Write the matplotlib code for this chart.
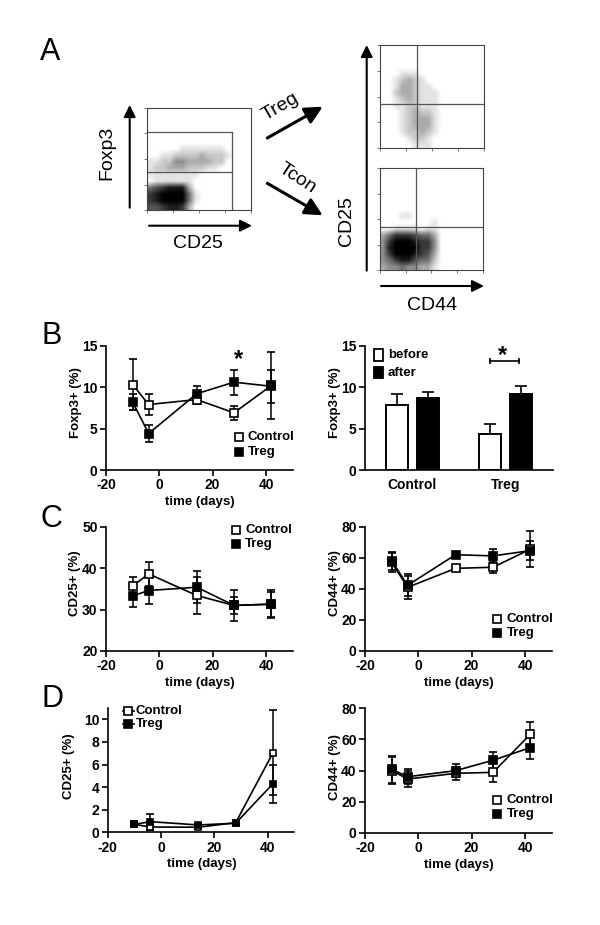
import numpy as np
import matplotlib
matplotlib.use('Agg')
import matplotlib.pyplot as plt
from matplotlib.patches import Rectangle

plt.rcParams['font.family'] = ['Liberation Sans', 'DejaVu Sans']
plt.rcParams['axes.unicode_minus'] = False

# time points shared by all line panels
days = [-10, -4, 14, 28, 42]

# panel B left
b_ctrl = [10.3, 7.9, 8.5, 6.9, 10.2]
b_ctrl_err = [3.1, 1.25, 0.5, 0.85, 4.0]
b_treg = [8.2, 4.4, 9.2, 10.6, 10.1]
b_treg_err = [1.0, 1.05, 0.9, 1.5, 2.0]

# panel B right
bar_groups = ['Control', 'Treg']
bar_before = [7.9, 4.4]
bar_before_err = [1.25, 1.1]
bar_after = [8.7, 9.2]
bar_after_err = [0.7, 0.9]

# panel C left
c1_ctrl = [35.7, 38.6, 33.4, 31.0, 31.3]
c1_ctrl_err = [2.1, 3.0, 4.4, 3.7, 3.4]
c1_treg = [33.3, 34.6, 35.4, 31.0, 31.3]
c1_treg_err = [2.6, 3.3, 3.8, 2.0, 3.0]

# panel C right
c2_ctrl = [57.0, 41.0, 53.2, 53.9, 65.5]
c2_ctrl_err = [6.0, 7.5, 1.5, 3.9, 11.5]
c2_treg = [58.0, 42.3, 62.0, 61.2, 64.6]
c2_treg_err = [6.0, 7.0, 1.0, 4.4, 6.0]

# panel D left
d1_ctrl = [0.7, 0.47, 0.45, 0.85, 7.03]
d1_ctrl_err = [0.15, 0.3, 0.1, 0.1, 3.75]
d1_treg = [0.7, 0.94, 0.65, 0.8, 4.3]
d1_treg_err = [0.1, 0.7, 0.1, 0.1, 1.7]

# panel D right
d2_ctrl = [40.0, 34.5, 38.2, 38.8, 63.3]
d2_ctrl_err = [8.7, 5.0, 4.0, 6.5, 8.0]
d2_treg = [40.8, 36.0, 39.9, 46.6, 54.7]
d2_treg_err = [8.6, 5.0, 4.0, 5.5, 7.3]

# flow plots: darkness on a coarse grid (0 white, 9 black)
flow_foxp3 = [
    [0, 0, 0, 0, 0, 0, 0, 0, 0, 0, 0, 0, 0, 0, 0, 0],
    [0, 0, 0, 0, 0, 0, 0, 0, 0, 0, 0, 0, 0, 0, 0, 0],
    [0, 0, 0, 0, 0, 0, 0, 0, 0, 0, 0, 0, 0, 0, 0, 0],
    [0, 0, 0, 0, 0, 0, 0, 0, 0, 0, 0, 0, 0, 0, 0, 0],
    [0, 0, 0, 0, 0, 0, 0, 0, 0, 0, 0, 0, 0, 0, 0, 0],
    [0, 0, 0, 0, 0, 0, 0, 0, 0, 0, 0, 0, 0, 0, 0, 0],
    [0, 0, 0, 0, 0, 1, 1, 1, 1, 1, 1, 1, 0, 0, 0, 0],
    [0, 0, 1, 1, 2, 2, 2, 2, 3, 2, 2, 2, 1, 0, 0, 0],
    [1, 1, 2, 2, 4, 4, 3, 3, 3, 3, 2, 2, 0, 0, 0, 0],
    [1, 2, 2, 3, 3, 3, 2, 2, 2, 1, 1, 0, 0, 0, 0, 0],
    [1, 1, 1, 1, 1, 1, 1, 1, 0, 0, 0, 0, 0, 0, 0, 0],
    [0, 1, 1, 1, 1, 1, 1, 0, 0, 0, 0, 0, 0, 0, 0, 0],
    [5, 6, 7, 8, 8, 8, 3, 0, 0, 0, 0, 0, 0, 0, 0, 0],
    [7, 8, 9, 9, 9, 9, 5, 1, 0, 0, 0, 0, 0, 0, 0, 0],
    [7, 8, 9, 9, 9, 9, 5, 1, 0, 0, 0, 0, 0, 0, 0, 0],
    [6, 6, 7, 8, 8, 7, 3, 0, 0, 0, 0, 0, 0, 0, 0, 0],
]
flow_treg = [
    [0, 0, 0, 0, 0, 0, 0, 0, 0, 0, 0, 0, 0, 0, 0, 0],
    [0, 0, 0, 0, 0, 0, 0, 0, 0, 0, 0, 0, 0, 0, 0, 0],
    [0, 0, 0, 0, 0, 0, 0, 0, 0, 0, 0, 0, 0, 0, 0, 0],
    [0, 0, 0, 0, 0, 0, 0, 0, 0, 0, 0, 0, 0, 0, 0, 0],
    [0, 0, 0, 1, 1, 1, 0, 0, 0, 0, 0, 0, 0, 0, 0, 0],
    [0, 0, 1, 2, 3, 2, 1, 0, 0, 0, 0, 0, 0, 0, 0, 0],
    [0, 0, 1, 3, 3, 2, 1, 1, 0, 0, 0, 0, 0, 0, 0, 0],
    [0, 0, 2, 3, 3, 2, 1, 1, 1, 0, 0, 0, 0, 0, 0, 0],
    [0, 0, 1, 2, 3, 2, 1, 1, 1, 0, 0, 0, 0, 0, 0, 0],
    [0, 0, 1, 1, 2, 2, 1, 1, 1, 0, 0, 0, 0, 0, 0, 0],
    [0, 0, 0, 1, 2, 3, 2, 2, 1, 0, 0, 0, 0, 0, 0, 0],
    [0, 0, 0, 1, 2, 3, 3, 3, 1, 0, 0, 0, 0, 0, 0, 0],
    [0, 0, 0, 1, 2, 3, 3, 3, 1, 0, 0, 0, 0, 0, 0, 0],
    [0, 0, 0, 1, 2, 2, 3, 2, 1, 0, 0, 0, 0, 0, 0, 0],
    [0, 0, 0, 0, 1, 2, 2, 1, 0, 0, 0, 0, 0, 0, 0, 0],
    [0, 0, 0, 0, 0, 1, 1, 1, 0, 0, 0, 0, 0, 0, 0, 0],
]
flow_tcon = [
    [0, 0, 0, 0, 0, 0, 0, 0, 0, 0, 0, 0, 0, 0, 0, 0],
    [0, 0, 0, 0, 0, 0, 0, 0, 0, 0, 0, 0, 0, 0, 0, 0],
    [0, 0, 0, 0, 0, 0, 0, 0, 0, 0, 0, 0, 0, 0, 0, 0],
    [0, 0, 0, 0, 0, 0, 0, 0, 0, 0, 0, 0, 0, 0, 0, 0],
    [0, 0, 0, 0, 0, 0, 0, 0, 0, 0, 0, 0, 0, 0, 0, 0],
    [0, 0, 0, 0, 0, 0, 0, 0, 0, 0, 0, 0, 0, 0, 0, 0],
    [0, 0, 0, 0, 0, 0, 0, 0, 0, 0, 0, 0, 0, 0, 0, 0],
    [0, 0, 0, 1, 1, 0, 0, 0, 0, 0, 0, 0, 0, 0, 0, 0],
    [0, 0, 0, 0, 0, 0, 0, 0, 1, 0, 0, 0, 0, 0, 0, 0],
    [0, 0, 1, 1, 1, 1, 0, 1, 1, 0, 0, 0, 0, 0, 0, 0],
    [3, 5, 7, 7, 7, 6, 5, 5, 3, 0, 0, 0, 0, 0, 0, 0],
    [4, 7, 9, 9, 9, 8, 7, 7, 4, 0, 0, 0, 0, 0, 0, 0],
    [4, 8, 9, 9, 9, 9, 7, 7, 4, 0, 0, 0, 0, 0, 0, 0],
    [4, 7, 9, 9, 9, 8, 7, 6, 3, 0, 0, 0, 0, 0, 0, 0],
    [4, 5, 7, 8, 8, 6, 5, 5, 2, 0, 0, 0, 0, 0, 0, 0],
    [3, 4, 4, 5, 4, 4, 3, 3, 1, 0, 0, 0, 0, 0, 0, 0],
]

W, H = 600, 925
fig = plt.figure(figsize=(W / 100, H / 100), dpi=100)

# overlay in pixel coordinates for the labels and arrows of the figure
ov = fig.add_axes([0, 0, 1, 1], zorder=5)
ov.set_xlim(0, W)
ov.set_ylim(H, 0)
ov.axis('off')
ov.patch.set_alpha(0)


def px_axes(x0, x1, y_top, y_bottom):
    return fig.add_axes([x0 / W, 1 - y_bottom / H, (x1 - x0) / W, (y_bottom - y_top) / H])


def flow_plot(grid, x0, x1, y_top, y_bottom, lines):
    ax = px_axes(x0, x1, y_top, y_bottom)
    ax.imshow(np.array(grid) / 9, cmap='gray_r', vmin=0, vmax=1, aspect='auto',
              interpolation='bilinear', extent=[0, 1, 0, 1])
    for s in ax.spines.values():
        s.set_color('#444444')
        s.set_linewidth(0.8)
    ax.set_xlim(0, 1)
    ax.set_ylim(0, 1)
    ax.set_xticks(np.arange(0, 1.01, 0.25))
    ax.set_yticks(np.arange(0, 1.01, 0.25))
    ax.set_xticklabels([])
    ax.set_yticklabels([])
    ax.tick_params(length=2, width=0.5, color='#444444')
    for (xa, ya, xb, yb) in lines:
        ax.plot([xa, xb], [ya, yb], color='#555555', lw=0.9)
    return ax


flow_plot(flow_foxp3, 147.3, 250.7, 107.7, 210.3,
          [(0, 0.76, 0.82, 0.76), (0.82, 0, 0.82, 0.76), (0, 0.37, 0.82, 0.37)])
flow_plot(flow_treg, 380, 484, 45, 148.3,
          [(0.355, 0, 0.355, 1), (0, 0.425, 1, 0.425)])
flow_plot(flow_tcon, 380, 482.7, 168.3, 270.3,
          [(0.35, 0, 0.35, 1), (0, 0.425, 1, 0.425)])


def arrow(xa, ya, xb, yb, lw=1.5, head=10):
    ov.annotate('', xy=(xb, yb), xytext=(xa, ya),
                arrowprops=dict(arrowstyle=f'-|>,head_width={head * 0.035},head_length={head * 0.07}',
                                color='black', lw=lw, shrinkA=0, shrinkB=0))


arrow(129.7, 207.7, 129.7, 105)
arrow(149, 225.7, 252, 225.7)
arrow(366.7, 270.7, 366.7, 45)
arrow(381, 286, 484, 286)
arrow(267.3, 138, 322.7, 106.7, lw=2.2, head=15)
arrow(267.3, 183.3, 322.7, 215.3, lw=2.2, head=15)

ov.text(107, 153, 'Foxp3', fontsize=14, rotation=90, ha='center', va='center')
ov.text(198, 244, 'CD25', fontsize=14, ha='center', va='center')
ov.text(346.7, 221, 'CD25', fontsize=14, rotation=90, ha='center', va='center')
ov.text(431.7, 305.7, 'CD44', fontsize=14, ha='center', va='center')
ov.text(281, 107, 'Treg', fontsize=14, rotation=30, ha='center', va='center')
ov.text(297, 178, 'Tcon', fontsize=14, rotation=-33, ha='center', va='center')

for letter, x, y in [('A', 40, 52), ('B', 41, 336), ('C', 41, 519), ('D', 41, 699)]:
    ov.text(x, y, letter, fontsize=22, ha='left', va='center')


def style(ax):
    ax.spines['top'].set_visible(False)
    ax.spines['right'].set_visible(False)
    ax.spines['left'].set_linewidth(1.2)
    ax.spines['bottom'].set_linewidth(1.2)
    ax.tick_params(width=1.2, length=4, pad=2, labelsize=10)
    for t in ax.get_xticklabels() + ax.get_yticklabels():
        t.set_fontweight('bold')


def line_panel(box, ylim, yticks, ctrl, ctrl_err, treg, treg_err, ylabel, ylab_x, ylab_y, leg, ms=6):
    ax = px_axes(*box, *ylim[2:])
    ax.errorbar(days, ctrl, yerr=ctrl_err, color='black', mfc='white', mec='black', marker='s',
                ms=ms, mew=1.2, lw=1.2, capsize=3.2, capthick=1.1, elinewidth=1.1, clip_on=False)
    ax.errorbar(days, treg, yerr=treg_err, color='black', mfc='black', mec='black', marker='s',
                ms=ms, mew=1.2, lw=1.2, capsize=3.2, capthick=1.1, elinewidth=1.1, clip_on=False)
    ax.set_xlim(-20, 50)
    ax.set_ylim(ylim[0], ylim[1])
    ax.set_xticks([-20, 0, 20, 40])
    ax.set_yticks(yticks)
    style(ax)
    ov.text(ylab_x, ylab_y, ylabel, fontsize=9.5, fontweight='bold', rotation=90, ha='center', va='center')
    ov.text((box[0] + box[1]) / 2 + 0.5, ylim[3] + 32, 'time (days)', fontsize=9.5, fontweight='bold',
            ha='center', va='center')
    mx, tx, y1, y2, with_line = leg
    for y, fc, name in [(y1, 'white', 'Control'), (y2, 'black', 'Treg')]:
        if with_line:
            ov.plot([mx - 5.5, mx + 5.5], [y, y], color='black', lw=1.2)
        ov.plot([mx], [y], marker='s', ms=5.8, mfc=fc, mec='black', mew=1.2, ls='none')
        ov.text(tx, y, name, fontsize=9.5, fontweight='bold', ha='left', va='center')
    return ax


line_panel((106, 292.7), (0, 15, 345.7, 470), [0, 5, 10, 15], b_ctrl, b_ctrl_err, b_treg, b_treg_err,
           'Foxp3+ (%)', 75.7, 403, (239, 248, 437.3, 451.7, False))
line_panel((106, 292.7), (20, 50, 526.7, 651), [20, 30, 40, 50], c1_ctrl, c1_ctrl_err, c1_treg, c1_treg_err,
           'CD25+ (%)', 75, 583, (235.7, 245, 530, 544, False))
line_panel((365, 551.7), (0, 80, 526.7, 651), [0, 20, 40, 60, 80], c2_ctrl, c2_ctrl_err, c2_treg, c2_treg_err,
           'CD44+ (%)', 335, 583, (497.3, 506.7, 619, 633.3, False))
line_panel((107.7, 294.3), (0, 11, 708, 832.3), [0, 2, 4, 6, 8, 10], d1_ctrl, d1_ctrl_err, d1_treg, d1_treg_err,
           'CD25+ (%)', 69, 766, (128, 136, 711, 724.3, True), ms=5)
line_panel((365, 551.7), (0, 80, 708.3, 832.7), [0, 20, 40, 60, 80], d2_ctrl, d2_ctrl_err, d2_treg, d2_treg_err,
           'CD44+ (%)', 335, 767, (497.3, 506.7, 800, 814.3, False))

ov.text(239, 360, '*', fontsize=17, fontweight='bold', ha='center', va='center')

# bar panel
ax = px_axes(365, 553, 345.7, 470)
before_x = [1, 4]
after_x = [2, 5]
ax.bar(before_x, bar_before, width=0.68, color='white', edgecolor='black', linewidth=1.4)
ax.bar(after_x, bar_after, width=0.68, color='black', edgecolor='black', linewidth=1.4)
ax.errorbar(before_x, bar_before, yerr=[[0, 0], bar_before_err], color='black', ls='none',
            capsize=4, capthick=1.2, elinewidth=1.2)
ax.errorbar(after_x, bar_after, yerr=[[0, 0], bar_after_err], color='black', ls='none',
            capsize=4, capthick=1.2, elinewidth=1.2)
ax.set_xlim(-0.03, 6.03)
ax.set_ylim(0, 15)
ax.set_yticks([0, 5, 10, 15])
ax.set_xticks([1.5, 4.5])
ax.set_xticklabels(bar_groups)
style(ax)
ax.tick_params(axis='x', length=0, pad=6)
ax.plot([4, 4.95], [13.2, 13.2], color='black', lw=1.2, marker='|', ms=5, mew=1.2)
ov.text(503, 356, '*', fontsize=17, fontweight='bold', ha='center', va='center')
ov.text(335, 403, 'Foxp3+ (%)', fontsize=9.5, fontweight='bold', rotation=90, ha='center', va='center')

# bar legend
ov.add_patch(Rectangle((374, 349), 9, 12, fc='white', ec='black', lw=1.3))
ov.add_patch(Rectangle((374, 367), 9, 11, fc='black', ec='black', lw=1.3))
ov.text(388, 355, 'before', fontsize=9.5, fontweight='bold', ha='left', va='center')
ov.text(388, 372.7, 'after', fontsize=9.5, fontweight='bold', ha='left', va='center')

plt.savefig('out.png', dpi=100)
plt.close()
